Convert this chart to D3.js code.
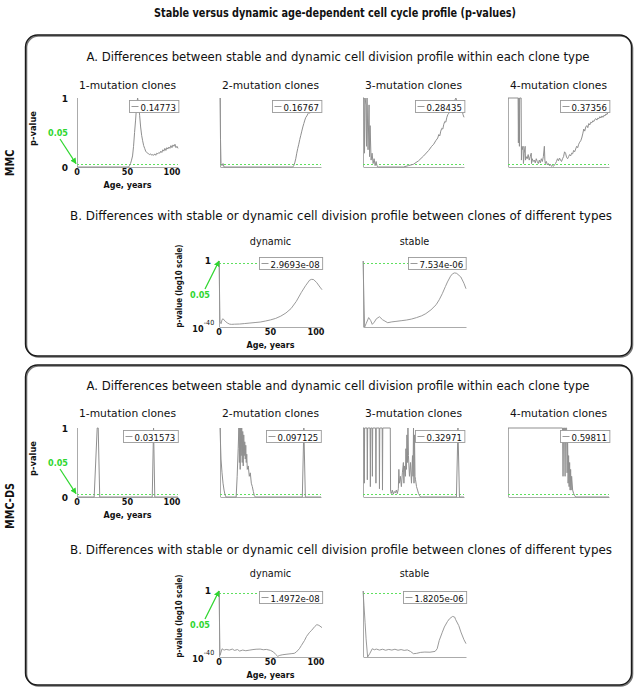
<!DOCTYPE html>
<html><head><meta charset="utf-8">
<script src="https://cdn.jsdelivr.net/npm/d3@7"></script>
<style>body{margin:0;background:#fff}svg{display:block}</style>
</head><body>
<script>
// ---------------- DATA ----------------
const chartTitle = "Stable versus dynamic age-dependent cell cycle profile (p-values)";
const modelNames = ["MMC", "MMC-DS"];
const titleA = "A. Differences between stable and dynamic cell division profile within each clone type";
const titleB = "B. Differences with stable or dynamic cell division profile between clones of different types";
const cloneTypes = ["1-mutation clones", "2-mutation clones", "3-mutation clones", "4-mutation clones"];
const profileTypes = ["dynamic", "stable"];
const xTicks = [0, 50, 100];
const threshold = 0.05;
const legendA_MMC = ["0.14773", "0.16767", "0.28435", "0.37356"];
const legendA_DS = ["0.031573", "0.097125", "0.32971", "0.59811"];
const legendB_MMC = ["2.9693e-08", "7.534e-06"];
const legendB_DS = ["1.4972e-08", "1.8205e-06"];

// [age, p-value]
const mmc1 = [[0,0],[51,0],[52,0.02],[53,0.05],[54,0.1],[55,0.16],[56,0.3],[57,0.5],[58,0.68],[59,0.88],[60,1],[61,0.92],[62,0.75],[63,0.58],[64,0.46],[65,0.38],[66,0.31],[67,0.27],[68,0.23],[69,0.21],[70,0.2],[71,0.19],[72,0.18],[73,0.19],[74,0.17],[75,0.18],[76,0.17],[77,0.19],[78,0.17],[79,0.2],[80,0.19],[81,0.21],[82,0.2],[83,0.23],[84,0.21],[85,0.25],[86,0.23],[87,0.27],[88,0.24],[89,0.28],[90,0.26],[91,0.29],[92,0.27],[93,0.31],[94,0.28],[95,0.32],[96,0.3],[97,0.33],[98,0.28],[99,0.3],[100,0.27]];
const mmc2 = [[0,1],[0.5,0.4],[1,0.05],[2,0.02],[3,0.05],[4,0],[72,0],[73,0.02],[74,0.06],[75,0.12],[76,0.2],[77,0.27],[78,0.33],[79,0.4],[80,0.46],[81,0.52],[82,0.58],[83,0.63],[84,0.68],[85,0.72],[86,0.74],[87,0.77],[88,0.79],[89,0.78],[90,0.82],[91,0.8],[92,0.84],[93,0.83],[94,0.87],[95,0.85],[96,0.88],[97,0.9],[98,0.88],[99,0.91],[100,0.9]];
const mmc3 = [[0,1],[1,1],[1.5,0.2],[2,1],[3,0.9],[3.5,0.3],[4,1],[5,0.25],[6,0.9],[6.5,0.15],[7,0.6],[8,0.1],[9,0.2],[10,0.05],[11,0.12],[12,0.02],[13,0.08],[14,0.01],[15,0],[40,0],[45,0.02],[50,0.04],[55,0.09],[60,0.16],[65,0.24],[68,0.3],[70,0.33],[72,0.38],[74,0.42],[75,0.47],[76,0.45],[77,0.52],[78,0.56],[79,0.55],[80,0.62],[81,0.66],[82,0.65],[83,0.72],[84,0.76],[85,0.78],[86,0.82],[87,0.86],[88,0.84],[89,0.9],[90,0.93],[91,0.97],[92,1],[93,0.95],[94,0.88],[95,0.92],[96,0.84],[97,0.8],[98,0.84],[99,0.76],[100,0.72]];
const mmc4 = [[0,1],[10,1],[10.3,0.35],[10.6,1],[11,1],[11.3,0.3],[11.6,1],[13,1],[13.3,0.1],[13.7,0.3],[14,0.25],[15,0.3],[15.3,0.05],[16,0.2],[17,0.3],[17.3,0.1],[18,0.15],[19,0.12],[20,0.18],[21,0.1],[22,0.15],[23,0.2],[23.3,0.05],[24,0.12],[25,0.08],[26,0.1],[27,0.06],[28,0.12],[29,0.08],[30,0.05],[31,0.1],[32,0.06],[33,0.12],[34,0.08],[35,0.15],[36,0.3],[36.5,0.1],[37,0.05],[38,0.08],[39,0.03],[40,0.05],[41,0.02],[42,0.04],[43,0.01],[44,0.02],[45,0.01],[46,0.03],[47,0.05],[48,0.08],[49,0.12],[50,0.09],[51,0.13],[52,0.1],[53,0.08],[54,0.12],[55,0.15],[56,0.22],[57,0.2],[58,0.14],[59,0.12],[60,0.15],[61,0.18],[62,0.16],[63,0.2],[64,0.19],[65,0.24],[66,0.22],[67,0.26],[68,0.3],[69,0.28],[70,0.33],[71,0.36],[72,0.38],[73,0.42],[74,0.48],[75,0.55],[76,0.52],[77,0.58],[78,0.6],[79,0.57],[80,0.63],[81,0.61],[82,0.65],[83,0.64],[84,0.67],[85,0.66],[86,0.69],[87,0.7],[88,0.68],[89,0.71],[90,0.7],[91,0.73],[92,0.71],[93,0.74],[94,0.72],[95,0.75],[96,0.74],[97,0.77],[98,0.76],[99,0.79],[100,0.8]];

const ds1 = [[0,0],[17,0],[20,1],[21,1],[22.5,0],[74.5,0],[75.8,1],[77,0],[100,0]];
const ds2 = [[0,1],[1,0.55],[2,0.35],[3,0.2],[4,0.1],[5,0.03],[6,0],[16,0],[17,0.3],[18,0.7],[18.7,1],[19.2,0.5],[19.6,1],[20,0.4],[20.5,1],[21,0.6],[21.5,1],[22,0.5],[22.5,0.95],[23,0.45],[23.5,0.9],[24,0.6],[24.5,0.8],[25,0.55],[25.5,0.75],[26,0.5],[26.5,0.62],[27,0.4],[28,0.45],[29,0.3],[30,0.35],[31,0.2],[32,0.15],[33,0.08],[34,0.02],[35,0],[81.5,0],[83,1],[84.5,0],[100,0]];
const ds3 = [[0,1],[1,1],[1.3,0.2],[1.6,1],[4,1],[4.3,0.25],[4.6,1],[7,1],[7.3,0.15],[7.6,1],[9,1],[9.3,0.3],[9.6,1],[12.5,1],[12.8,0.2],[13.1,1],[16,1],[16.3,0.12],[16.6,1],[19,1],[19.3,0.1],[19.6,1],[27,1],[27.3,0.08],[28,0.05],[29,0.1],[30,0.04],[31,0.08],[32,0.06],[33,0.1],[34,0.05],[35,0.12],[35.5,0.4],[36,0.2],[37,0.3],[38,0.15],[39,0.35],[40,0.5],[40.5,0.2],[41,0.45],[42,0.3],[42.5,0.7],[43,0.4],[43.5,0.9],[44,0.5],[44.5,1],[45,0.6],[46,0.3],[47,0.5],[48,0.2],[49,0.6],[49.5,0.3],[50,1],[50.5,0.2],[51,0.9],[51.5,0.3],[52,0.25],[53,0.15],[54,0.1],[55,0.05],[56,0.02],[57,0],[92.5,0],[94,1],[95.5,0],[100,0]];
const ds4 = [[0,1],[54,1],[54.5,0.3],[55,1],[56,1],[56.5,0.3],[57,1],[58,1],[58.5,0.35],[59,0.9],[59.5,0.2],[60,0.6],[60.5,0.15],[61,0.5],[61.5,0.1],[62,0.4],[62.5,0.1],[63,0.3],[64,0.1],[65,0.05],[66,0.02],[67,0],[100,0]];

// [age, log10(p-value)]
const mmcDynamic = [[0,0],[1,-37],[2,-38],[3,-35.5],[4,-35],[5,-35.8],[6,-36.5],[8,-37.5],[10,-38.2],[12,-38.4],[15,-38.3],[20,-38.2],[25,-37.9],[30,-37.6],[35,-37.3],[40,-37],[45,-36.4],[50,-35.7],[55,-34.8],[60,-33.4],[65,-31.5],[70,-28.8],[75,-24.5],[80,-19],[84,-15],[88,-11.6],[90,-11.1],[92,-11.3],[95,-13.2],[98,-15.8],[100,-17.4]];
const mmcStable = [[0,0],[1.6,-40],[3,-38],[5.5,-34.3],[7.4,-36],[9,-38.4],[11,-37],[13,-35],[16,-33.8],[19,-35.6],[24,-37.4],[28,-36.9],[32,-36.6],[37,-36.2],[42,-35.8],[47,-35.2],[52,-34.3],[57,-33.2],[61,-31.9],[66,-29.6],[71,-26.5],[74,-23.5],[77,-19.8],[80,-15.5],[82,-12.7],[85,-9.2],[87,-7.7],[89,-7.2],[91,-7.5],[95,-9.7],[98,-13.5],[100,-16.8]];
const dsDynamic = [[0,0],[1,-39],[2,-37],[3,-35],[4,-35.5],[5,-35.8],[7,-35.4],[10,-35.8],[13,-35.2],[15,-36],[18,-35.5],[20,-36.4],[23,-35.8],[26,-36.2],[30,-35.8],[33,-35.5],[36,-35.3],[40,-35.2],[43,-35.6],[46,-35.4],[50,-36],[53,-37],[55,-38.4],[57,-39.6],[59,-39],[62,-38.6],[66,-38.3],[70,-38],[73,-37.8],[75,-37],[78,-35],[80,-33],[83,-30],[85,-27.5],[88,-25],[90,-23.8],[93,-21.5],[95,-20.4],[97,-20.8],[100,-22.2]];
const dsStable = [[0,0],[1,-9],[2,-19],[3,-29],[4.5,-40],[6.5,-38],[9,-35],[11,-35.6],[13,-35.2],[16,-35.8],[19,-35.3],[22,-35.9],[25,-35.4],[28,-35.8],[31,-35.3],[34,-35.9],[37,-35.5],[40,-36],[43,-35.7],[46,-36.6],[49,-38],[52,-37.8],[56,-37.2],[60,-37],[65,-37.1],[70,-36.6],[72,-35],[74,-30],[77,-25],[79,-21.8],[82,-18.5],[84,-16.8],[87,-15.4],[89,-15.8],[90,-17.4],[93,-21],[95,-24.8],[98,-29.5],[100,-31.9]];

const seriesA = [[mmc1, mmc2, mmc3, mmc4], [ds1, ds2, ds3, ds4]];
const seriesB = [[mmcDynamic, mmcStable], [dsDynamic, dsStable]];
const legendsA = [legendA_MMC, legendA_DS];
const legendsB = [legendB_MMC, legendB_DS];

// ---------------- LAYOUT ----------------
const W = 636, H = 688;
const FONT = "'DejaVu Sans', Verdana, sans-serif";
const GREEN = "#2fd62f";
const DASH = "#5fe05f";
const LINE = "#8f8f8f";
const AXIS = "#ababab";

const layout = [
  {rectY: 35, rectH: 321, labelY: 163, titleAY: 57, subAY: 85, aTop: 98, aBot: 167, legAY: 100,
   titleBY: 216, subBY: 241, bTop: 261, bBot: 327, legBY: 257},
  {rectY: 365, rectH: 320, labelY: 506, titleAY: 386, subAY: 413, aTop: 428, aBot: 497, legAY: 430,
   titleBY: 550, subBY: 573, bTop: 591, bBot: 657, legBY: 591}
];
const aLefts = [77, 220, 363, 508], aW = 101;
const bLefts = [219, 363], bW = 103;

const svg = d3.select("body").append("svg").attr("width", W).attr("height", H);
const defs = svg.append("defs");
defs.append("marker").attr("id", "arr").attr("viewBox", "0 0 10 10")
  .attr("refX", 9).attr("refY", 5).attr("markerWidth", 6).attr("markerHeight", 6)
  .attr("orient", "auto").attr("markerUnits", "userSpaceOnUse")
  .append("path").attr("d", "M0,0L10,5L0,10Z").attr("fill", GREEN);

function txt(g, s, x, y, o = {}) {
  const t = g.append("text").attr("x", x).attr("y", y).text(s)
    .attr("font-family", FONT).attr("font-size", o.size || 10)
    .attr("font-weight", o.bold ? "bold" : "normal")
    .attr("fill", o.fill || "#111")
    .attr("text-anchor", o.anchor || "middle")
    .attr("dominant-baseline", "central");
  if (o.width) t.attr("textLength", o.width).attr("lengthAdjust", "spacingAndGlyphs");
  else if (o.squeeze) {
    const n = t.node().getComputedTextLength();
    t.attr("textLength", n * o.squeeze).attr("lengthAdjust", "spacingAndGlyphs");
  }
  if (o.rotate) t.attr("transform", `rotate(${o.rotate},${x},${y})`);
  return t;
}
const crisp = v => Math.round(v) + 0.5;

txt(svg, chartTitle, 335, 13, {size: 12, bold: true, width: 362});

function legend(g, label, right, top) {
  const lg = g.append("g");
  const t = txt(lg, label, 0, 0, {size: 9.5, anchor: "start", squeeze: 0.9});
  const tw = +t.attr("textLength");
  const bw = tw + 14, bh = 12;
  const x0 = Math.round(right - bw) + 0.5;
  lg.insert("rect", "text").attr("x", x0).attr("y", top + 0.5).attr("width", bw).attr("height", bh)
    .attr("fill", "#fff").attr("stroke", "#9a9a9a").attr("stroke-width", 0.9);
  lg.append("line").attr("x1", x0 + 2).attr("x2", x0 + 9).attr("y1", top + bh / 2 + 0.5).attr("y2", top + bh / 2 + 0.5)
    .attr("stroke", "#999").attr("stroke-width", 1);
  t.attr("x", x0 + 11).attr("y", top + bh / 2 + 1);
}

function axes(g, x, left, w, top, bot) {
  g.append("g").attr("transform", `translate(0,${bot})`)
    .call(d3.axisBottom(x).tickValues([]).tickSizeOuter(0))
    .select(".domain").attr("stroke", AXIS);
  g.append("line").attr("x1", left + 0.5).attr("x2", left + 0.5).attr("y1", top).attr("y2", bot).attr("stroke", AXIS);
}

function xTickLabels(g, x, y) {
  xTicks.forEach((v, i) => {
    txt(g, String(v), x(v) + (i === xTicks.length - 1 ? -6 : 0), y, {size: 9, bold: true, squeeze: 0.9});
  });
}

function thresholdLine(g, x, yv) {
  g.append("line").attr("x1", x(0)).attr("x2", x(100)).attr("y1", crisp(yv)).attr("y2", crisp(yv))
    .attr("stroke", DASH).attr("stroke-width", 1).attr("stroke-dasharray", "2,2");
}

layout.forEach((L, pi) => {
  const g = svg.append("g");
  g.append("rect").attr("x", 26.5).attr("y", L.rectY + 1).attr("width", 606).attr("height", L.rectH)
    .attr("rx", 12).attr("fill", "none").attr("stroke", "#777").attr("stroke-width", 1.6);
  g.append("rect").attr("x", 25.5).attr("y", L.rectY).attr("width", 606).attr("height", L.rectH)
    .attr("rx", 12).attr("fill", "none").attr("stroke", "#1a1a1a").attr("stroke-width", 1.4);
  txt(g, modelNames[pi], 10, L.labelY, {size: 11.5, bold: true, rotate: -90, squeeze: 0.85});
  txt(g, titleA, 338, L.titleAY, {size: 11.5, width: 503});
  txt(g, titleB, 341, L.titleBY, {size: 11.5, width: 542});

  // Panel A
  seriesA[pi].forEach((data, k) => {
    const left = aLefts[k];
    const x = d3.scaleLinear().domain([0, 100]).range([left, left + aW]);
    const y = d3.scaleLinear().domain([0, 1]).range([L.aBot, L.aTop]);
    txt(g, cloneTypes[k], left + aW / 2, L.subAY, {size: 11, width: 97});
    axes(g, x, left, aW, L.aTop, L.aBot);
    thresholdLine(g, x, y(threshold));
    g.append("path").datum(data).attr("fill", "none").attr("stroke", LINE).attr("stroke-width", 1)
      .attr("d", d3.line().x(d => x(d[0])).y(d => y(d[1])));
    legend(g, legendsA[pi][k], left + aW, L.legAY);
    if (k === 0) {
      txt(g, "1", left - 12, y(1) + 1, {size: 9, bold: true});
      txt(g, "0", left - 12, y(0) + 1, {size: 9, bold: true});
      xTickLabels(g, x, L.aBot + 5);
      txt(g, "Age, years", left + aW / 2, L.aBot + 18, {size: 9, bold: true, width: 48});
      txt(g, "p-value", 33, (L.aTop + L.aBot) / 2 - 4, {size: 9, bold: true, rotate: -90, width: 35});
      txt(g, "0.05", left - 19, L.aTop + 35, {size: 9, bold: true, fill: GREEN, width: 20});
      g.append("line").attr("x1", left - 17).attr("y1", L.aTop + 41).attr("x2", left - 1).attr("y2", y(threshold))
        .attr("stroke", GREEN).attr("stroke-width", 1.2).attr("marker-end", "url(#arr)");
    }
  });

  // Panel B
  seriesB[pi].forEach((data, k) => {
    const left = bLefts[k];
    const x = d3.scaleLinear().domain([0, 100]).range([left, left + bW]);
    const y = d3.scaleLinear().domain([-40, 0]).range([L.bBot, L.bTop]);
    txt(g, profileTypes[k], left + bW / 2, L.subBY, {size: 11, squeeze: 0.88});
    axes(g, x, left, bW, L.bTop, L.bBot);
    thresholdLine(g, x, y(Math.log10(threshold)));
    g.append("path").datum(data).attr("fill", "none").attr("stroke", LINE).attr("stroke-width", 0.9)
      .attr("d", d3.line().x(d => x(d[0])).y(d => y(d[1])));
    legend(g, legendsB[pi][k], left + bW, L.legBY);
    if (k === 0) {
      txt(g, "1", left - 11, y(0), {size: 9, bold: true});
      txt(g, "10", left - 21, y(-40) + 2, {size: 9, bold: true, squeeze: 0.9});
      txt(g, "-40", left - 10, y(-40) - 4, {size: 7, squeeze: 0.9});
      xTickLabels(g, x, L.bBot + 5);
      txt(g, "Age, years", left + bW / 2, L.bBot + 18, {size: 9, bold: true, width: 48});
      txt(g, "p-value (log10 scale)", 179, (L.bTop + L.bBot) / 2 - 8, {size: 9, bold: true, rotate: -90, width: 83});
      txt(g, "0.05", left - 19, L.bTop + 34, {size: 9, bold: true, fill: GREEN, width: 20});
      g.append("line").attr("x1", left - 14).attr("y1", L.bTop + 28).attr("x2", left).attr("y2", L.bTop)
        .attr("stroke", GREEN).attr("stroke-width", 1.2).attr("marker-end", "url(#arr)");
    }
  });
});
</script>
</body></html>
